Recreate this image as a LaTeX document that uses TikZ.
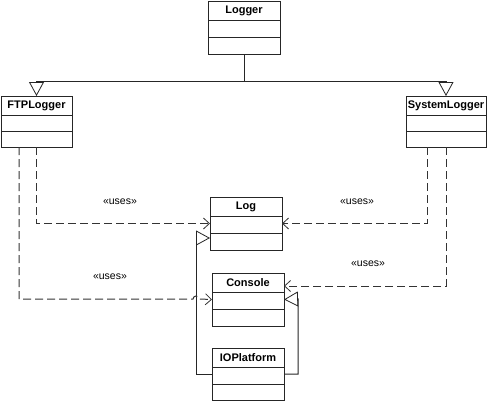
\documentclass[tikz,border=0pt]{standalone}
\usepackage{fontspec}
\setmainfont{Liberation Sans}
\usetikzlibrary{calc,arrows.meta}

% one UML class: name, x1, y1, x2, y2, first divider, second divider, title
\newcommand\umlclass[8]{%
  \node[classbox, minimum width={#4-#2}, minimum height={#5-#3}]
    (#1) at ({(#2+#4)/2},{(#3+#5)/2}) {};
  \draw[classline] (#2,#6) -- (#4,#6) (#2,#7) -- (#4,#7);
  \node[classname] (#1-name) at ({(#2+#4)/2},{(#3+#6)/2+0.5}) {#8};
}

\begin{document}
\begin{tikzpicture}[x=1pt,y=-1pt,
  classbox/.style={draw=black!85, line width=1pt, fill=white, rectangle,
    inner sep=0pt, outer sep=0pt},
  classline/.style={draw=black!85, line width=1pt},
  classname/.style={font=\bfseries\fontsize{11}{13}\selectfont, inner sep=0pt},
  stereo/.style={font=\fontsize{10.5}{12}\selectfont, inner sep=0pt},
  gen/.style={draw=black!85, line width=1pt,
    -{Triangle[open, length=14pt, width=15pt, line width=0.8pt]}},
  dep/.style={draw=black!80, line width=1pt, dash pattern=on 8pt off 4pt,
    -{Straight Barb[length=6pt, width=11pt, line width=0.8pt]}}
]
\useasboundingbox (0,0) rectangle (487,402);
\fill[white] (0,0) rectangle (487,402);

% classes
\umlclass{logger}{208}{1}{280}{54}{20}{37}{Logger}
\umlclass{ftp}{1}{96}{72}{147}{115}{131}{FTPLogger}
\umlclass{syslog}{406}{96}{486}{147}{115}{131}{SystemLogger}
\umlclass{log}{210}{197}{282}{250}{216}{233}{Log}
\umlclass{console}{212}{273}{284}{326}{292}{309}{Console}
\umlclass{io}{212}{348}{284}{400}{367}{384}{IOPlatform}

% inheritance from Logger
\coordinate (split) at (244,81);
\draw[gen] (logger.south) -- (split) -| (ftp.north);
\draw[gen] (split) -| (syslog.north);

% IOPlatform realises Log and Console
\coordinate (ioleft) at (196,238);
\coordinate (logtip) at (210,238);
\coordinate (ioright) at (298,299);
\draw[gen] (io.west) -| (ioleft) -- (logtip);
\draw[gen] (io.east) -| (ioright) -- (console.east);

% dependencies of FTPLogger
\coordinate (ftpa) at (19,147);
\coordinate (hopin) at (193,299);
\draw[dep] (ftp.south) |- (log.west);
\draw[dep] (ftpa) |- (hopin) arc (180:360:3) -- (console.west);

% dependencies of SystemLogger
\coordinate (sysa) at (427,147);
\coordinate (consin) at (284,286);
\draw[dep] (sysa) |- (log.east);
\draw[dep] (syslog.south) |- (consin);

% stereotype labels
\node[stereo] (u1) at (120,202) {«uses»};
\node[stereo] (u2) at (110,277) {«uses»};
\node[stereo] (u3) at (357,202) {«uses»};
\node[stereo] (u4) at (368,264) {«uses»};
\end{tikzpicture}
\end{document}
